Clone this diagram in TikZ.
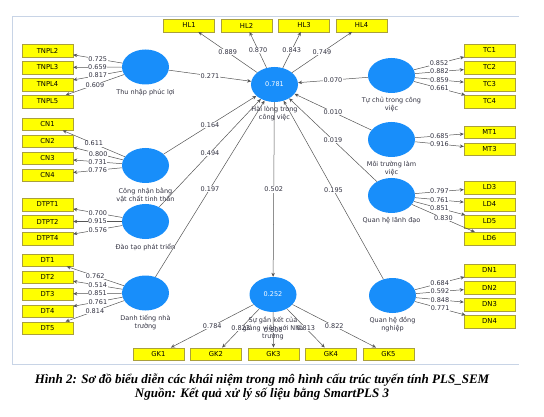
\documentclass[tikz,border=0pt]{standalone}
\usepackage{fontspec}
\setmainfont{Liberation Serif}
\setsansfont{DejaVu Sans}
\usepackage{tikz}
\usetikzlibrary{shapes.geometric,arrows.meta,positioning}
\definecolor{plsBlue}{RGB}{24,142,250}
\definecolor{plsYellow}{RGB}{255,255,0}
\definecolor{plsEdge}{RGB}{170,160,60}
\definecolor{plsLine}{RGB}{85,85,85}
\definecolor{plsText}{RGB}{50,50,65}
\definecolor{plsFrame}{RGB}{200,212,230}
\tikzset{
    plsLatent/.style={
        ellipse,
        fill=plsBlue,
        minimum width=47pt,
        minimum height=35pt,
        inner sep=0pt,
        text=white,
        font=\fontsize{6.5}{7}\sffamily
    },
    plsIndicator/.style={
        rectangle,
        draw=plsEdge,
        fill=plsYellow,
        line width=0.4pt,
        minimum width=51pt,
        minimum height=12.5pt,
        inner sep=0pt,
        font=\fontsize{6.8}{8}\sffamily
    },
    plsName/.style={font=\fontsize{6.5}{8}\sffamily, text=plsText, align=center, inner sep=1pt},
    % Arrows
    plsArrow/.style={-{Stealth[length=4pt, width=3.5pt]}, draw=plsLine, line width=0.5pt},
    plsCoef/.style={midway, fill=white, inner sep=0.6pt, font=\fontsize{6.5}{7}\sffamily, text=plsText}
}

\begin{document}
\begin{tikzpicture}[x=1pt, y=-1pt]
\useasboundingbox (0,0) rectangle (544,417);
\draw[plsFrame, line width=0.8pt] (519,16) -- (12,16) -- (12,364) -- (519,364);

% Latent variables
\node[plsLatent] (hl) at (274.5,84.5) {0.781};
\node[plsLatent] (gk) at (273,294.5) {0.252};
\node[plsLatent] (tnpl) at (145.5,67) {};
\node[plsLatent] (cn) at (145.5,165.5) {};
\node[plsLatent] (dtpt) at (145.5,221.5) {};
\node[plsLatent] (dt) at (145.5,293) {};
\node[plsLatent] (tc) at (391.5,75.5) {};
\node[plsLatent] (mt) at (391.5,139.5) {};
\node[plsLatent] (ld) at (391.5,195.5) {};
\node[plsLatent] (dn) at (392.5,295.5) {};

% Indicators and outer loadings
\foreach \lv/\ind/\xx/\yy/\load in {
    tnpl/TNPL2/47.5/50.5/0.725, tnpl/TNPL3/47.5/67.5/0.659, tnpl/TNPL4/47.5/84.5/0.817, tnpl/TNPL5/47.5/101.5/0.609,
    cn/CN1/47.5/124/0.611, cn/CN2/47.5/141/0.800, cn/CN3/47.5/158/0.731, cn/CN4/47.5/175/0.776,
    dtpt/DTPT1/47.5/204.5/0.700, dtpt/DTPT2/47.5/221.5/0.915, dtpt/DTPT4/47.5/238.5/0.576,
    dt/DT1/47.5/260/0.762, dt/DT2/47.5/277/0.514, dt/DT3/47.5/294/0.851, dt/DT4/47.5/311/0.761, dt/DT5/47.5/328/0.814,
    hl/HL1/189/25.5/0.889, hl/HL2/246.5/25.5/0.870, hl/HL3/304/25.5/0.843, hl/HL4/361.5/25.5/0.749,
    tc/TC1/489.5/50.5/0.852, tc/TC2/489.5/67.5/0.882, tc/TC3/489.5/84.5/0.859, tc/TC4/489.5/101.5/0.661,
    mt/MT1/489.5/132/0.685, mt/MT3/489.5/149/0.916,
    ld/LD3/489.5/187.5/0.797, ld/LD4/489.5/204.5/0.761, ld/LD5/489.5/221.5/0.851, ld/LD6/489.5/238.5/0.830,
    dn/DN1/489.5/270.5/0.684, dn/DN2/489.5/287.5/0.592, dn/DN3/489.5/304.5/0.848, dn/DN4/489.5/321.5/0.771,
    gk/GK1/158.5/354/0.784, gk/GK2/216/354/0.823, gk/GK3/273.5/354/0.800, gk/GK4/331/354/0.813, gk/GK5/388.5/354/0.822}{
    \node[plsIndicator] (\ind) at (\xx,\yy) {\ind};
    \draw[plsArrow] (\lv) -- node[plsCoef] {\load} (\ind);
}

% Path coefficients
\draw[plsArrow] (tnpl) -- node[plsCoef] {0.271} (hl);
\draw[plsArrow] (cn) -- node[plsCoef] {0.164} (hl);
\draw[plsArrow] (dtpt) -- node[plsCoef] {0.494} (hl);
\draw[plsArrow] (dt) -- node[plsCoef] {0.197} (hl);
\draw[plsArrow] (tc) -- node[plsCoef] {0.070} (hl);
\draw[plsArrow] (mt) -- node[plsCoef] {0.010} (hl);
\draw[plsArrow] (ld) -- node[plsCoef] {0.019} (hl);
\draw[plsArrow] (dn) -- node[plsCoef] {0.195} (hl);
\draw[plsArrow] (hl) -- node[plsCoef] {0.502} (gk);

% Construct names
\node[plsName, below=3pt of hl] (hlName) {Hài lòng trong\\công việc};
\node[plsName, below=3pt of gk] (gkName) {Sự gắn kết của\\giảng viên với Nhà\\trường};
\node[plsName, below=3pt of tnpl] (tnplName) {Thu nhập phúc lợi};
\node[plsName, below=3pt of cn] (cnName) {Công nhận bằng\\vật chất tinh thần};
\node[plsName, below=3pt of dtpt] (dtptName) {Đào tạo phát triển};
\node[plsName, below=3pt of dt] (dtName) {Danh tiếng nhà\\trường};
\node[plsName, below=3pt of tc] (tcName) {Tự chủ trong công\\việc};
\node[plsName, below=3pt of mt] (mtName) {Môi trường làm\\việc};
\node[plsName, below=3pt of ld] (ldName) {Quan hệ lãnh đạo};
\node[plsName, below=3pt of dn] (dnName) {Quan hệ đồng\\nghiệp};

\node[font=\fontsize{13}{11.5}\selectfont\bfseries\itshape, align=center] (caption) at (262,387)
    {Hình 2: Sơ đồ biểu diễn các khái niệm trong mô hình cấu trúc tuyến tính PLS\_SEM\\Nguồn: Kết quả xử lý số liệu bằng SmartPLS 3};
\end{tikzpicture}
\end{document}
